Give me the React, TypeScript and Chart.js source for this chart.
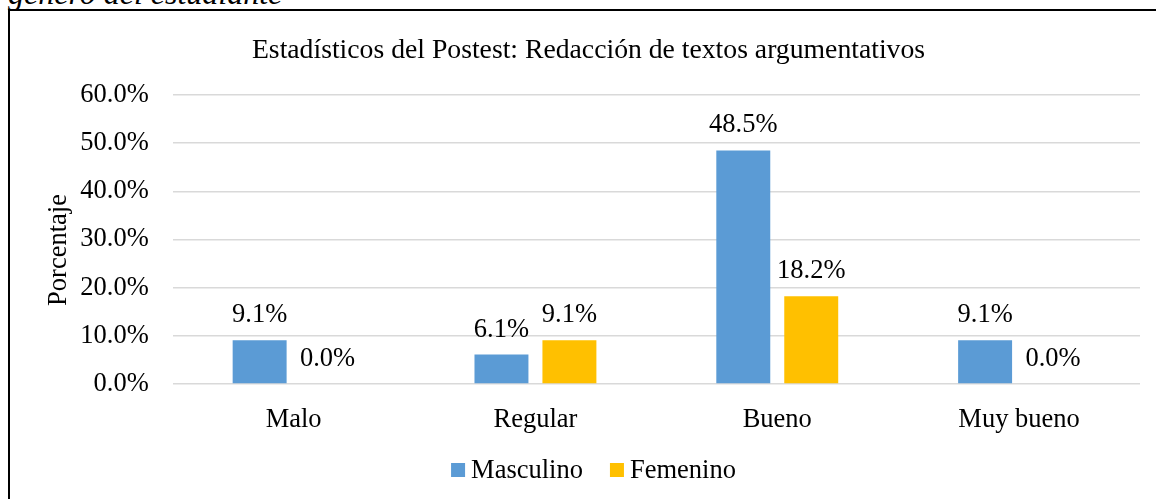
import React, { useEffect, useRef } from "react";
import { Chart, registerables } from "chart.js";

Chart.register(...registerables);

const categories = ["Malo", "Regular", "Bueno", "Muy bueno"];
const masculino = [9.1, 6.1, 48.5, 9.1];
const femenino = [0.0, 9.1, 18.2, 0.0];
const seriesNames = ["Masculino", "Femenino"];
const seriesColors = ["#5B9BD5", "#FFC000"];
const yMax = 60;
const yStep = 10;
const chartTitle = "Estadísticos del Postest: Redacción de textos argumentativos";
const yTitle = "Porcentaje";
const captionText = "género del estudiante";

const FONT = '"Liberation Serif", "Times New Roman", serif';
const FS = 26.5;
const TITLE_FS = 27.7;

const overlayPlugin = {
  id: "overlay",
  afterDatasetsDraw(chart: any) {
    const ctx = chart.ctx;
    ctx.save();
    ctx.font = `${FS}px ${FONT}`;
    ctx.fillStyle = "#000";
    ctx.textAlign = "center";
    ctx.textBaseline = "alphabetic";
    // data labels
    chart.data.datasets.forEach((ds: any, i: number) => {
      const meta = chart.getDatasetMeta(i);
      meta.data.forEach((el: any, j: number) => {
        const v = ds.data[j] as number;
        ctx.fillText(v.toFixed(1) + "%", el.x, el.y - 18);
      });
    });
    // y axis title
    ctx.save();
    ctx.translate(56, 239);
    ctx.rotate(-Math.PI / 2);
    ctx.fillText(yTitle, 0, 0);
    ctx.restore();
    // legend
    const box = 14;
    const gapBoxText = 6;
    const gapItems = 27;
    const widths = chart.data.datasets.map((ds: any) => ctx.measureText(ds.label).width);
    let total = 0;
    widths.forEach((w: number, i: number) => {
      total += box + gapBoxText + w + (i < widths.length - 1 ? gapItems : 0);
    });
    let x = 583.5 - total / 2;
    ctx.textAlign = "left";
    chart.data.datasets.forEach((ds: any, i: number) => {
      ctx.fillStyle = ds.backgroundColor;
      ctx.fillRect(x, 452, box, box);
      ctx.fillStyle = "#000";
      ctx.fillText(ds.label, x + box + gapBoxText, 467);
      x += box + gapBoxText + widths[i] + gapItems;
    });
    // title
    ctx.textAlign = "center";
    ctx.font = `${TITLE_FS}px ${FONT}`;
    ctx.fillText(chartTitle, 578.5, 47);
    ctx.restore();
  },
};

export default function App() {
  const ref = useRef<HTMLCanvasElement | null>(null);
  useEffect(() => {
    if (!ref.current) return;
    const chart = new Chart(ref.current, {
      type: "bar",
      data: {
        labels: categories,
        datasets: [
          { label: seriesNames[0], data: masculino, backgroundColor: seriesColors[0], categoryPercentage: 0.562, barPercentage: 0.794 },
          { label: seriesNames[1], data: femenino, backgroundColor: seriesColors[1], categoryPercentage: 0.562, barPercentage: 0.794 },
        ],
      },
      options: {
        animation: false,
        responsive: false,
        maintainAspectRatio: false,
        layout: { padding: { left: 0, right: 30, top: 84, bottom: 67 } },
        plugins: {
          legend: { display: false },
          title: { display: false },
          tooltip: { enabled: false },
        },
        scales: {
          x: {
            grid: { display: false },
            border: { display: false },
            ticks: { color: "#000", font: { family: FONT, size: FS }, padding: 12 },
            afterFit: (s: any) => { s.height = 60; },
          },
          y: {
            min: 0,
            max: yMax,
            grid: { color: "#D9D9D9", lineWidth: 1.5, drawTicks: false },
            border: { display: false },
            ticks: {
              stepSize: yStep,
              color: "#000",
              font: { family: FONT, size: FS },
              padding: 24,
              callback: (v: any) => Number(v).toFixed(1) + "%",
            },
            afterFit: (s: any) => { s.width = 162.7; },
          },
        },
      },
      plugins: [overlayPlugin],
    });
    return () => chart.destroy();
  }, []);

  return (
    <div style={{ position: "fixed", left: 0, top: 0, width: 1156, height: 499, overflow: "hidden", background: "#fff" }}>
      <div
        style={{
          position: "absolute",
          left: 8,
          top: -22.8,
          fontFamily: FONT,
          fontStyle: "italic",
          fontSize: 32,
          lineHeight: "32px",
          whiteSpace: "nowrap",
          color: "#000",
        }}
      >
        {captionText}
      </div>
      <div
        style={{
          position: "absolute",
          left: 8,
          top: 9,
          borderLeft: "2px solid #000",
          borderTop: "2px solid #000",
          background: "#fff",
        }}
      >
        <canvas ref={ref} width={1160} height={500} style={{ display: "block", width: 1160, height: 500 }} />
      </div>
    </div>
  );
}
